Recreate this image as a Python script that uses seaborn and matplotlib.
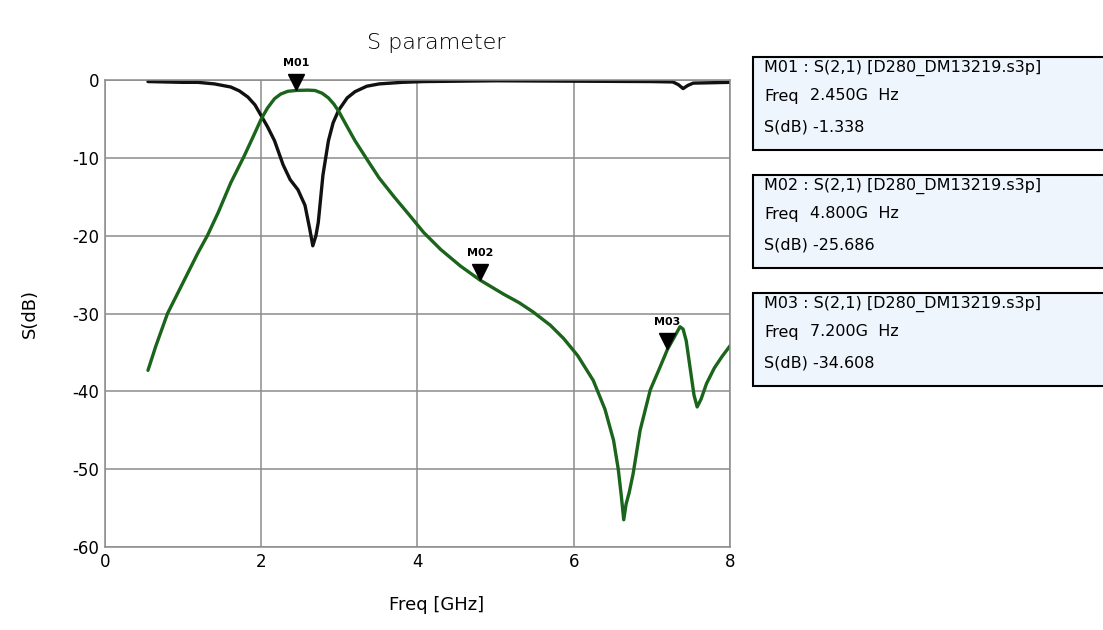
import numpy as np
import pandas as pd
import matplotlib
matplotlib.use("Agg")
import matplotlib.pyplot as plt
import matplotlib.transforms as mtransforms
from matplotlib.patches import Rectangle
import seaborn as sns

# S11 (black) and S21 (green)
s11_freq = [0.55, 1.00, 1.19, 1.40, 1.61, 1.72, 1.83, 1.92, 2.00, 2.08, 2.17, 2.28,
            2.37, 2.47, 2.56, 2.62, 2.66, 2.70, 2.73, 2.79, 2.86, 2.92, 2.99, 3.10,
            3.20, 3.35, 3.51, 3.80, 4.08, 5.00, 6.00, 7.00, 7.27, 7.34, 7.40, 7.46,
            7.53, 8.00]
s11_db = [-0.2, -0.3, -0.3, -0.5, -0.9, -1.4, -2.2, -3.2, -4.6, -6.0, -7.8, -10.9,
          -12.8, -14.1, -16.1, -19.1, -21.3, -20.0, -18.3, -12.2, -7.8, -5.5, -3.9, -2.3,
          -1.5, -0.8, -0.5, -0.3, -0.2, -0.1, -0.15, -0.2, -0.25, -0.6, -1.1, -0.7,
          -0.4, -0.3]

s21_freq = [0.55, 0.65, 0.80, 0.95, 1.05, 1.19, 1.31, 1.45, 1.61, 1.78, 1.90, 2.00,
            2.08, 2.17, 2.25, 2.34, 2.45, 2.60, 2.69, 2.78, 2.86, 2.93, 2.99, 3.10,
            3.20, 3.36, 3.51, 3.70, 3.90, 4.08, 4.30, 4.55, 4.80, 5.10, 5.30, 5.48,
            5.70, 5.87, 6.05, 6.25, 6.40, 6.51, 6.57, 6.61, 6.64, 6.67, 6.71, 6.76,
            6.85, 6.98, 7.10, 7.20, 7.30, 7.36, 7.40, 7.44, 7.49, 7.54, 7.58, 7.63,
            7.70, 7.80, 7.90, 8.02]
s21_db = [-37.3, -34.2, -30.0, -27.0, -25.0, -22.2, -20.0, -17.0, -13.2, -9.8, -7.2, -5.0,
          -3.6, -2.4, -1.8, -1.45, -1.34, -1.3, -1.35, -1.7, -2.3, -3.1, -4.0, -6.0,
          -7.8, -10.3, -12.6, -15.0, -17.4, -19.6, -21.8, -23.9, -25.7, -27.5, -28.6, -29.8,
          -31.5, -33.2, -35.4, -38.6, -42.3, -46.3, -50.0, -53.5, -56.5, -54.5, -53.0, -50.6,
          -45.0, -39.8, -37.0, -34.6, -32.8, -31.7, -32.0, -33.5, -37.0, -40.5, -42.0, -41.0,
          -39.0, -37.0, -35.5, -33.9]

marker_names = ["M01", "M02", "M03"]
marker_freq = [2.450, 4.800, 7.200]
marker_db = [-1.338, -25.686, -34.608]
marker_source = "S(2,1) [D280_DM13219.s3p]"

sns.set_style("white")
plt.rcParams['font.family'] = ['DejaVu Sans']
plt.rcParams['axes.unicode_minus'] = False
plt.rcParams['text.color'] = 'black'
plt.rcParams['axes.labelcolor'] = 'black'
plt.rcParams['xtick.color'] = 'black'
plt.rcParams['ytick.color'] = 'black'

fig = plt.figure(figsize=(11.03, 6.30), dpi=100)
ax = fig.add_axes([0.0952, 0.1317, 0.5666, 0.7413])

sns.lineplot(x=s11_freq, y=s11_db, ax=ax, color="#111111", linewidth=2.4)
sns.lineplot(x=s21_freq, y=s21_db, ax=ax, color="#1b641b", linewidth=2.4)

ax.set_xlim(0, 8)
ax.set_ylim(-60, 0)
ax.set_xticks([0, 2, 4, 6, 8])
ax.set_yticks([0, -10, -20, -30, -40, -50, -60])
ax.tick_params(length=0, labelsize=12, pad=4)
ax.grid(True, color="#8c8c8c", linewidth=1.1)
for sp in ax.spines.values():
    sp.set_color("#8c8c8c")
    sp.set_linewidth(1.1)

ax.set_title("S parameter", fontsize=16, pad=22, x=0.53, fontweight='light')
ax.set_xlabel("Freq [GHz]", fontsize=13, labelpad=18, x=0.53)
ax.set_ylabel("S(dB)", fontsize=13, labelpad=24)

# marker triangles with the apex on the trace
tri = mtransforms.offset_copy(ax.transData, fig=fig, x=0, y=8, units='dots')
lab = mtransforms.offset_copy(ax.transData, fig=fig, x=0, y=22, units='dots')
for name, f, db in zip(marker_names, marker_freq, marker_db):
    ax.plot([f], [db], marker='v', markersize=11, color='black',
            transform=tri, clip_on=False, zorder=5)
    ax.text(f, db, name, transform=lab, ha='center', va='bottom',
            fontsize=8, fontweight='bold', clip_on=False, zorder=5)

# marker readout boxes on the right
box_tops = [57, 175, 293]
W, H = 1103, 630
for name, f, db, top in zip(marker_names, marker_freq, marker_db, box_tops):
    fig.patches.append(Rectangle((753 / W, 1 - (top + 93) / H), 400 / W, 93 / H,
                                 transform=fig.transFigure, facecolor="#eef5fd",
                                 edgecolor="black", linewidth=1.5, clip_on=False))
    fig.text(764 / W, 1 - (top + 11) / H, f"{name} : {marker_source}",
             fontsize=11.5, va='center', ha='left')
    fig.text(764 / W, 1 - (top + 39) / H, "Freq", fontsize=11.5, va='center', ha='left')
    fig.text(810 / W, 1 - (top + 39) / H, f"{f:.3f}G  Hz", fontsize=11.5, va='center',
             ha='left')
    fig.text(764 / W, 1 - (top + 70) / H, f"S(dB) {db:.3f}", fontsize=11.5,
             va='center', ha='left')

fig.savefig("out.png", dpi=100)
